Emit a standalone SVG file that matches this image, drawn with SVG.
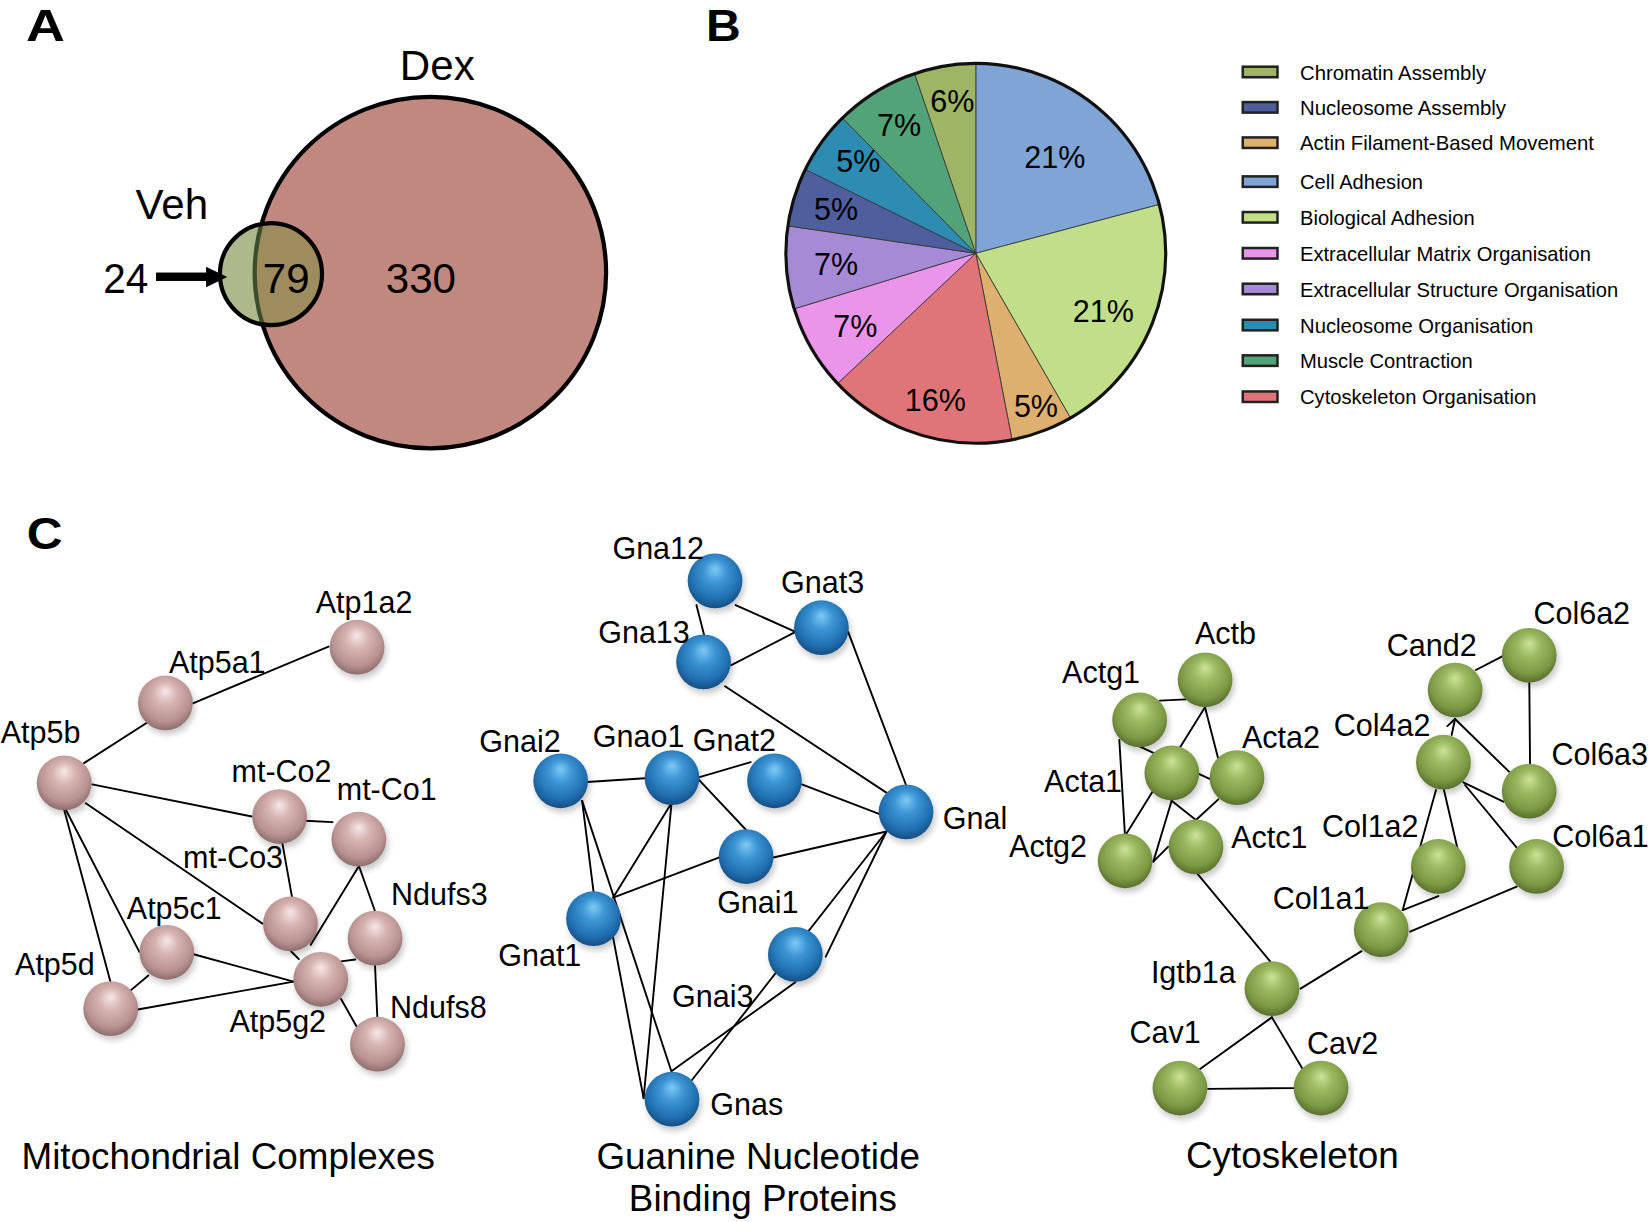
<svg xmlns="http://www.w3.org/2000/svg" width="1650" height="1222" viewBox="0 0 1650 1222">
<defs>
<style>
.t{font-family:"Liberation Sans",Arial,Helvetica,sans-serif;fill:#000}
.pl{font-size:40px}
.hd{font-size:42px;font-weight:bold}
.pct{font-size:29px}
.lg{font-size:20px}
.lbl{font-size:29px}
.ttl{font-size:35px}
.edge{stroke:#000;stroke-width:1.8;fill:none;stroke-linecap:round}
.slice{stroke:#333;stroke-width:0.8}
.sw{stroke:#222;stroke-width:2.4}
.shadow{fill:#000;opacity:0.22;filter:url(#blur)}
.pk{fill:url(#gPink)}
.bl{fill:url(#gBlue)}
.gr{fill:url(#gGreen)}
</style>
<filter id="blur" x="-50%" y="-50%" width="200%" height="200%"><feGaussianBlur stdDeviation="3"/></filter>
<radialGradient id="gPink" cx="0.5" cy="0.42" r="0.6" fx="0.5" fy="0.28">
<stop offset="0" stop-color="#f6e8e8"/><stop offset="0.35" stop-color="#d6b3b1"/><stop offset="0.75" stop-color="#b99291"/><stop offset="1" stop-color="#876a69"/>
</radialGradient>
<radialGradient id="gBlue" cx="0.5" cy="0.42" r="0.6" fx="0.5" fy="0.28">
<stop offset="0" stop-color="#7fcaf3"/><stop offset="0.35" stop-color="#3d95d5"/><stop offset="0.75" stop-color="#2170b1"/><stop offset="1" stop-color="#154a7c"/>
</radialGradient>
<radialGradient id="gGreen" cx="0.5" cy="0.42" r="0.6" fx="0.5" fy="0.28">
<stop offset="0" stop-color="#cde29a"/><stop offset="0.35" stop-color="#9bb960"/><stop offset="0.75" stop-color="#7c9a43"/><stop offset="1" stop-color="#55692c"/>
</radialGradient>
<clipPath id="clipSmall"><circle cx="257.5" cy="260.5" r="48.5"/></clipPath>
</defs>
<rect x="0" y="0" width="1650" height="1222" fill="#fff"/>
<g transform="scale(1.05230)">
<!-- Panel A -->
<g id="panelA">
<text class="t hd" x="24.8" y="39" textLength="37" lengthAdjust="spacingAndGlyphs">A</text>
<circle cx="409" cy="259" r="167" fill="#c0887e" stroke="#000" stroke-width="4"/>
<circle cx="257.5" cy="260.5" r="48.5" fill="#adb98a"/>
<circle cx="409" cy="259" r="167" fill="#9e8c5e" clip-path="url(#clipSmall)"/>
<circle cx="409" cy="259" r="167" fill="none" stroke="#3b4d2b" stroke-width="4" clip-path="url(#clipSmall)"/>
<circle cx="257.5" cy="260.5" r="48.5" fill="none" stroke="#000" stroke-width="4"/>
<rect x="148.3" y="259" width="48.5" height="8" fill="#000"/>
<polygon points="195.8,253.4 216,263.2 195.8,273" fill="#000"/>
<text class="t pl" x="380" y="76">Dex</text>
<text class="t pl" x="128.8" y="208.4">Veh</text>
<text class="t pl" x="98" y="278.8" textLength="42.8" lengthAdjust="spacingAndGlyphs">24</text>
<text class="t pl" x="272" y="278.8" text-anchor="middle">79</text>
<text class="t pl" x="400" y="278.8" text-anchor="middle">330</text>
</g>
<!-- Panel B -->
<g id="panelB">
<text class="t hd" x="671" y="38.5" textLength="33" lengthAdjust="spacingAndGlyphs">B</text>
<g id="pie">
<path class="slice" fill="#7fa4d6" d="M927.3,240.7 L927.3,60.2 A180.5,180.5 0 0 1 1101.73,194.29 Z"/>
<path class="slice" fill="#c0df88" d="M927.3,240.7 L1101.73,194.29 A180.5,180.5 0 0 1 1017.28,397.18 Z"/>
<path class="slice" fill="#ddb06f" d="M927.3,240.7 L1017.28,397.18 A180.5,180.5 0 0 1 961.74,417.88 Z"/>
<path class="slice" fill="#e07579" d="M927.3,240.7 L961.74,417.88 A180.5,180.5 0 0 1 795.94,364.49 Z"/>
<path class="slice" fill="#ea95ea" d="M927.3,240.7 L795.94,364.49 A180.5,180.5 0 0 1 754.69,293.47 Z"/>
<path class="slice" fill="#a68ad5" d="M927.3,240.7 L754.69,293.47 A180.5,180.5 0 0 1 748.69,214.64 Z"/>
<path class="slice" fill="#4f5e9c" d="M927.3,240.7 L748.69,214.64 A180.5,180.5 0 0 1 765.34,161.01 Z"/>
<path class="slice" fill="#2e8cb2" d="M927.3,240.7 L765.34,161.01 A180.5,180.5 0 0 1 800.56,112.18 Z"/>
<path class="slice" fill="#52a478" d="M927.3,240.7 L800.56,112.18 A180.5,180.5 0 0 1 869.13,69.83 Z"/>
<path class="slice" fill="#9db565" d="M927.3,240.7 L869.13,69.83 A180.5,180.5 0 0 1 927.3,60.2 Z"/>
<circle cx="927.3" cy="240.7" r="180.5" fill="none" stroke="#111" stroke-width="3"/>
<text class="t pct" x="973.3" y="160">21%</text>
<text class="t pct" x="1019.4" y="305.7">21%</text>
<text class="t pct" x="963.5" y="396">5%</text>
<text class="t pct" x="859.9" y="390.3">16%</text>
<text class="t pct" x="791.9" y="320.6">7%</text>
<text class="t pct" x="773.5" y="261.3">7%</text>
<text class="t pct" x="773.5" y="209">5%</text>
<text class="t pct" x="794.8" y="163.1">5%</text>
<text class="t pct" x="833.4" y="129.2">7%</text>
<text class="t pct" x="884" y="106.1">6%</text>
</g>
<g id="legend">
<rect class="sw" x="1181" y="63.4" width="33" height="10" fill="#9db565"/>
<text class="t lg" x="1235.4" y="75.6" textLength="176.8" lengthAdjust="spacingAndGlyphs">Chromatin Assembly</text>
<rect class="sw" x="1181" y="97" width="33" height="10" fill="#4f5e9c"/>
<text class="t lg" x="1235.4" y="109.2" textLength="195.8" lengthAdjust="spacingAndGlyphs">Nucleosome Assembly</text>
<rect class="sw" x="1181" y="130.6" width="33" height="10" fill="#ddb06f"/>
<text class="t lg" x="1235.4" y="142.8" textLength="279.3" lengthAdjust="spacingAndGlyphs">Actin Filament-Based Movement</text>
<rect class="sw" x="1181" y="167.6" width="33" height="10" fill="#7fa4d6"/>
<text class="t lg" x="1235.4" y="179.8" textLength="116.9" lengthAdjust="spacingAndGlyphs">Cell Adhesion</text>
<rect class="sw" x="1181" y="201.5" width="33" height="10" fill="#c0df88"/>
<text class="t lg" x="1235.4" y="213.7" textLength="165.9" lengthAdjust="spacingAndGlyphs">Biological Adhesion</text>
<rect class="sw" x="1181" y="235.7" width="33" height="10" fill="#ea95ea"/>
<text class="t lg" x="1235.4" y="247.9" textLength="276.5" lengthAdjust="spacingAndGlyphs">Extracellular Matrix Organisation</text>
<rect class="sw" x="1181" y="269.6" width="33" height="10" fill="#a68ad5"/>
<text class="t lg" x="1235.4" y="281.8" textLength="302.4" lengthAdjust="spacingAndGlyphs">Extracellular Structure Organisation</text>
<rect class="sw" x="1181" y="303.9" width="33" height="10" fill="#2e8cb2"/>
<text class="t lg" x="1235.4" y="316.1" textLength="221.7" lengthAdjust="spacingAndGlyphs">Nucleosome Organisation</text>
<rect class="sw" x="1181" y="337.7" width="33" height="10" fill="#52a478"/>
<text class="t lg" x="1235.4" y="349.9" textLength="164.1" lengthAdjust="spacingAndGlyphs">Muscle Contraction</text>
<rect class="sw" x="1181" y="372" width="33" height="10" fill="#e07579"/>
<text class="t lg" x="1235.4" y="384.2" textLength="224.6" lengthAdjust="spacingAndGlyphs">Cytoskeleton Organisation</text>
</g>
</g>
<!-- Panel C -->
<text class="t hd" x="25.5" y="522" textLength="34" lengthAdjust="spacingAndGlyphs">C</text>
<g id="connectors">
<!-- mito -->
<line class="edge" x1="183.3" y1="668.3" x2="312.2" y2="614.4"/>
<line class="edge" x1="79.8" y1="725.2" x2="139.2" y2="687.1"/>
<line class="edge" x1="87.6" y1="745.4" x2="239.3" y2="775.9"/>
<line class="edge" x1="81.5" y1="763.3" x2="249.5" y2="877.7"/>
<line class="edge" x1="62.8" y1="770" x2="132.4" y2="904.6"/>
<line class="edge" x1="61.1" y1="770" x2="105.2" y2="933.8"/>
<line class="edge" x1="290" y1="779.9" x2="316" y2="781.3"/>
<line class="edge" x1="268.1" y1="800" x2="277.6" y2="853"/>
<line class="edge" x1="341.1" y1="823" x2="295.3" y2="897.9"/>
<line class="edge" x1="276.6" y1="904" x2="284" y2="911.5"/>
<line class="edge" x1="341.1" y1="823" x2="356.4" y2="866"/>
<line class="edge" x1="184" y1="906.8" x2="279" y2="932.9"/>
<line class="edge" x1="141" y1="927" x2="123.9" y2="941.4"/>
<line class="edge" x1="131" y1="959.3" x2="279" y2="932.9"/>
<line class="edge" x1="324.1" y1="913.6" x2="337.7" y2="911.8"/>
<line class="edge" x1="324.1" y1="949.4" x2="339.4" y2="976.4"/>
<line class="edge" x1="356.4" y1="918" x2="358.7" y2="969.6"/>
<!-- guanine -->
<line class="edge" x1="661.8" y1="575" x2="669.3" y2="604.1"/>
<line class="edge" x1="699.1" y1="575" x2="756" y2="600.5"/>
<line class="edge" x1="695" y1="632" x2="756" y2="600.5"/>
<line class="edge" x1="689" y1="652.1" x2="844.1" y2="754.4"/>
<line class="edge" x1="806" y1="600.5" x2="861" y2="746"/>
<line class="edge" x1="558" y1="743.2" x2="613" y2="739.6"/>
<line class="edge" x1="664" y1="738.7" x2="713.4" y2="724.3"/>
<line class="edge" x1="664" y1="740.9" x2="709.3" y2="789"/>
<line class="edge" x1="762" y1="745.4" x2="836" y2="773.6"/>
<line class="edge" x1="735" y1="814.9" x2="842.4" y2="790.2"/>
<line class="edge" x1="582.7" y1="853" x2="683" y2="814.9"/>
<line class="edge" x1="582.7" y1="853" x2="637" y2="765"/>
<line class="edge" x1="553.2" y1="761.1" x2="564" y2="847"/>
<line class="edge" x1="553.2" y1="761.1" x2="638" y2="1018"/>
<line class="edge" x1="638" y1="765" x2="611.6" y2="1043.6"/>
<line class="edge" x1="582.7" y1="891.2" x2="611.6" y2="1043.6"/>
<line class="edge" x1="657.4" y1="1026.6" x2="842.4" y2="790.2"/>
<line class="edge" x1="784.7" y1="909.1" x2="842.4" y2="790.2"/>
<line class="edge" x1="638.7" y1="1017.5" x2="755.8" y2="933.5"/>
<!-- cytoskeleton -->
<line class="edge" x1="1102.3" y1="665.8" x2="1127" y2="664.6"/>
<line class="edge" x1="1145.1" y1="672" x2="1069.1" y2="794.5"/>
<line class="edge" x1="1145.1" y1="672" x2="1157.8" y2="721.6"/>
<line class="edge" x1="1083.3" y1="709.6" x2="1150.5" y2="740.6"/>
<line class="edge" x1="1063.7" y1="703.2" x2="1069.1" y2="794.5"/>
<line class="edge" x1="1113.4" y1="760.9" x2="1096" y2="818.8"/>
<line class="edge" x1="1113.4" y1="760.9" x2="1136.5" y2="779.3"/>
<line class="edge" x1="1157.8" y1="759.6" x2="1136.5" y2="779.3"/>
<line class="edge" x1="1096" y1="818.8" x2="1110.2" y2="804.6"/>
<line class="edge" x1="1138.4" y1="831" x2="1207.4" y2="914"/>
<line class="edge" x1="1402.6" y1="636.7" x2="1428" y2="623.5"/>
<line class="edge" x1="1453.3" y1="649" x2="1454" y2="726"/>
<line class="edge" x1="1379.5" y1="698.5" x2="1382.7" y2="683.3"/>
<line class="edge" x1="1375.4" y1="690" x2="1382.7" y2="683.3"/>
<line class="edge" x1="1434" y1="733.3" x2="1382.7" y2="683.3"/>
<line class="edge" x1="1390.6" y1="743.4" x2="1428.6" y2="761.8"/>
<line class="edge" x1="1392.2" y1="746" x2="1441.3" y2="805.5"/>
<line class="edge" x1="1364.6" y1="750.7" x2="1333" y2="864.8"/>
<line class="edge" x1="1372.2" y1="750.7" x2="1385.2" y2="807.1"/>
<line class="edge" x1="1333" y1="864.8" x2="1366.9" y2="851.5"/>
<line class="edge" x1="1340" y1="885.4" x2="1441.3" y2="842.6"/>
<line class="edge" x1="1235.9" y1="939.5" x2="1293.9" y2="903.9"/>
<line class="edge" x1="1208.7" y1="966.8" x2="1140.4" y2="1015.9"/>
<line class="edge" x1="1208.7" y1="966.8" x2="1237.9" y2="1015.9"/>
<line class="edge" x1="1148" y1="1034.8" x2="1230" y2="1034"/>
</g>
<!-- Mitochondrial nodes -->
<g id="n-Atp1a2"><circle class="shadow" cx="341.3" cy="619" r="26"/><circle class="pk" cx="339.3" cy="615" r="26"/><text class="t lbl" x="300" y="583">Atp1a2</text></g>
<g id="n-Atp5a1"><circle class="shadow" cx="159.2" cy="672" r="26"/><circle class="pk" cx="157.2" cy="668" r="26"/><text class="t lbl" x="160.5" y="640">Atp5a1</text></g>
<g id="n-Atp5b"><circle class="shadow" cx="63" cy="748" r="26"/><circle class="pk" cx="61" cy="744" r="26"/><text class="t lbl" x="0.7" y="706">Atp5b</text></g>
<g id="n-mt-Co2"><circle class="shadow" cx="267.7" cy="780" r="26"/><circle class="pk" cx="265.7" cy="776" r="26"/><text class="t lbl" x="220" y="743">mt-Co2</text></g>
<g id="n-mt-Co1"><circle class="shadow" cx="343" cy="801.5" r="26"/><circle class="pk" cx="341" cy="797.5" r="26"/><text class="t lbl" x="320" y="760">mt-Co1</text></g>
<g id="n-mt-Co3"><circle class="shadow" cx="278" cy="882" r="26"/><circle class="pk" cx="276" cy="878" r="26"/><text class="t lbl" x="174" y="825">mt-Co3</text></g>
<g id="n-Atp5c1"><circle class="shadow" cx="160.5" cy="909" r="26"/><circle class="pk" cx="158.5" cy="905" r="26"/><text class="t lbl" x="120.5" y="873">Atp5c1</text></g>
<g id="n-Atp5d"><circle class="shadow" cx="107.2" cy="962.5" r="26"/><circle class="pk" cx="105.2" cy="958.5" r="26"/><text class="t lbl" x="14.3" y="927">Atp5d</text></g>
<g id="n-Atp5g2"><circle class="shadow" cx="306.8" cy="934.6" r="26"/><circle class="pk" cx="304.8" cy="930.6" r="26"/><text class="t lbl" x="218" y="981">Atp5g2</text></g>
<g id="n-Ndufs3"><circle class="shadow" cx="358.4" cy="895.5" r="26"/><circle class="pk" cx="356.4" cy="891.5" r="26"/><text class="t lbl" x="371.6" y="860">Ndufs3</text></g>
<g id="n-Ndufs8"><circle class="shadow" cx="360.7" cy="996.3" r="26"/><circle class="pk" cx="358.7" cy="992.3" r="26"/><text class="t lbl" x="370.6" y="967.5">Ndufs8</text></g>
<!-- Guanine nodes -->
<g id="n-Gna12"><circle class="shadow" cx="681.5" cy="556" r="26"/><circle class="bl" cx="679.5" cy="552" r="26"/><text class="t lbl" x="582" y="531.5">Gna12</text></g>
<g id="n-Gnat3"><circle class="shadow" cx="782.6" cy="600.5" r="26"/><circle class="bl" cx="780.6" cy="596.5" r="26"/><text class="t lbl" x="742.3" y="564">Gnat3</text></g>
<g id="n-Gna13"><circle class="shadow" cx="670.6" cy="633" r="26"/><circle class="bl" cx="668.6" cy="629" r="26"/><text class="t lbl" x="568.5" y="611">Gna13</text></g>
<g id="n-Gnai2"><circle class="shadow" cx="534.8" cy="746" r="26"/><circle class="bl" cx="532.8" cy="742" r="26"/><text class="t lbl" x="455.5" y="715">Gnai2</text></g>
<g id="n-Gnao1"><circle class="shadow" cx="640.6" cy="743" r="26"/><circle class="bl" cx="638.6" cy="739" r="26"/><text class="t lbl" x="563.4" y="709.5">Gnao1</text></g>
<g id="n-Gnat2"><circle class="shadow" cx="738" cy="746" r="26"/><circle class="bl" cx="736" cy="742" r="26"/><text class="t lbl" x="658.4" y="714">Gnat2</text></g>
<g id="n-Gnal"><circle class="shadow" cx="863" cy="775.5" r="26"/><circle class="bl" cx="861" cy="771.5" r="26"/><text class="t lbl" x="896" y="787.5">Gnal</text></g>
<g id="n-Gnai1"><circle class="shadow" cx="711" cy="818" r="26"/><circle class="bl" cx="709" cy="814" r="26"/><text class="t lbl" x="681.5" y="868">Gnai1</text></g>
<g id="n-Gnat1"><circle class="shadow" cx="566" cy="877" r="26"/><circle class="bl" cx="564" cy="873" r="26"/><text class="t lbl" x="473.5" y="918">Gnat1</text></g>
<g id="n-Gnai3"><circle class="shadow" cx="757.8" cy="911" r="26"/><circle class="bl" cx="755.8" cy="907" r="26"/><text class="t lbl" x="638.7" y="957">Gnai3</text></g>
<g id="n-Gnas"><circle class="shadow" cx="640.6" cy="1048.6" r="26"/><circle class="bl" cx="638.6" cy="1044.6" r="26"/><text class="t lbl" x="675" y="1060">Gnas</text></g>
<!-- Cytoskeleton nodes -->
<g id="n-Actb"><circle class="shadow" cx="1147.2" cy="650" r="26"/><circle class="gr" cx="1145.2" cy="646" r="26"/><text class="t lbl" x="1135.6" y="612">Actb</text></g>
<g id="n-Actg1"><circle class="shadow" cx="1085" cy="688.2" r="26"/><circle class="gr" cx="1083" cy="684.2" r="26"/><text class="t lbl" x="1009.3" y="649.3">Actg1</text></g>
<g id="n-Acta1"><circle class="shadow" cx="1115.6" cy="738.5" r="26"/><circle class="gr" cx="1113.6" cy="734.5" r="26"/><text class="t lbl" x="992.2" y="753">Acta1</text></g>
<g id="n-Acta2"><circle class="shadow" cx="1177.5" cy="743" r="26"/><circle class="gr" cx="1175.5" cy="739" r="26"/><text class="t lbl" x="1180.2" y="711">Acta2</text></g>
<g id="n-Actg2"><circle class="shadow" cx="1071.2" cy="822" r="26"/><circle class="gr" cx="1069.2" cy="818" r="26"/><text class="t lbl" x="958.9" y="814">Actg2</text></g>
<g id="n-Actc1"><circle class="shadow" cx="1138.5" cy="808.8" r="26"/><circle class="gr" cx="1136.5" cy="804.8" r="26"/><text class="t lbl" x="1170" y="805.7">Actc1</text></g>
<g id="n-Cand2"><circle class="shadow" cx="1384.8" cy="659.7" r="26"/><circle class="gr" cx="1382.8" cy="655.7" r="26"/><text class="t lbl" x="1317.9" y="623">Cand2</text></g>
<g id="n-Col6a2"><circle class="shadow" cx="1455.2" cy="626.7" r="26"/><circle class="gr" cx="1453.2" cy="622.7" r="26"/><text class="t lbl" x="1457.2" y="593.3">Col6a2</text></g>
<g id="n-Col4a2"><circle class="shadow" cx="1373.7" cy="728.3" r="26"/><circle class="gr" cx="1371.7" cy="724.3" r="26"/><text class="t lbl" x="1267.5" y="699.5">Col4a2</text></g>
<g id="n-Col6a3"><circle class="shadow" cx="1455.2" cy="755.8" r="26"/><circle class="gr" cx="1453.2" cy="751.8" r="26"/><text class="t lbl" x="1474.3" y="726.7">Col6a3</text></g>
<g id="n-Col1a2"><circle class="shadow" cx="1368.8" cy="827.4" r="26"/><circle class="gr" cx="1366.8" cy="823.4" r="26"/><text class="t lbl" x="1256.2" y="795.8">Col1a2</text></g>
<g id="n-Col6a1"><circle class="shadow" cx="1462.2" cy="827.4" r="26"/><circle class="gr" cx="1460.2" cy="823.4" r="26"/><text class="t lbl" x="1475" y="805">Col6a1</text></g>
<g id="n-Col1a1"><circle class="shadow" cx="1314.6" cy="887.5" r="26"/><circle class="gr" cx="1312.6" cy="883.5" r="26"/><text class="t lbl" x="1209.5" y="863.8">Col1a1</text></g>
<g id="n-Igtb1a"><circle class="shadow" cx="1210.7" cy="943.5" r="26"/><circle class="gr" cx="1208.7" cy="939.5" r="26"/><text class="t lbl" x="1093.7" y="934">Igtb1a</text></g>
<g id="n-Cav1"><circle class="shadow" cx="1123.3" cy="1038" r="26"/><circle class="gr" cx="1121.3" cy="1034" r="26"/><text class="t lbl" x="1073.4" y="991">Cav1</text></g>
<g id="n-Cav2"><circle class="shadow" cx="1257.4" cy="1038" r="26"/><circle class="gr" cx="1255.4" cy="1034" r="26"/><text class="t lbl" x="1242" y="1001.3">Cav2</text></g>
<!-- Titles -->
<g id="titles">
<text class="t ttl" x="20.4" y="1111">Mitochondrial Complexes</text>
<text class="t ttl" x="720.5" y="1111" text-anchor="middle">Guanine Nucleotide</text>
<text class="t ttl" x="725" y="1151" text-anchor="middle">Binding Proteins</text>
<text class="t ttl" x="1127" y="1110">Cytoskeleton</text>
</g>
</g>
</svg>
